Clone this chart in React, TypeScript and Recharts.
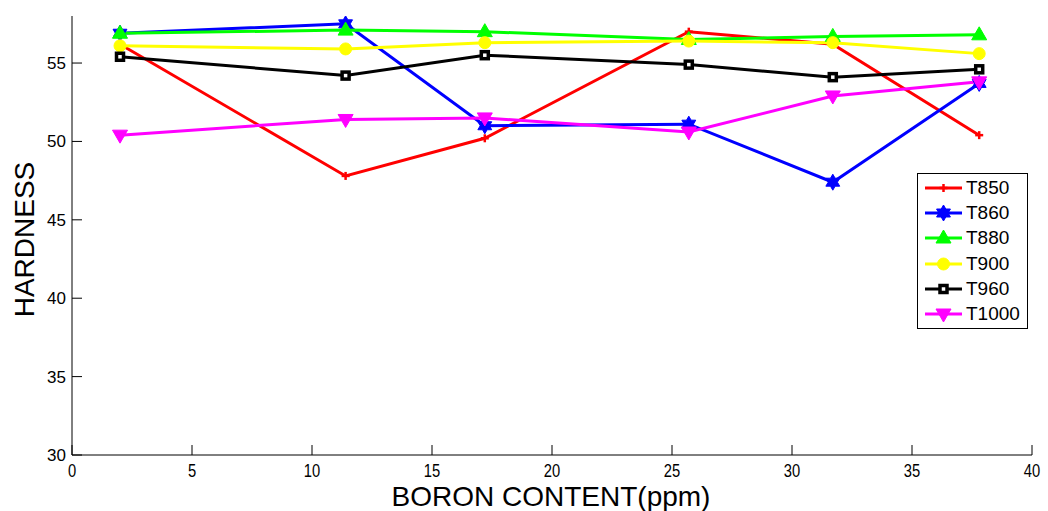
import React from 'react';
import { LineChart, Line, XAxis, YAxis, Legend } from 'recharts';

document.body.style.margin = '0';

const boron = [2, 11.4, 17.2, 25.7, 31.7, 37.8];
const t850 = [56.2, 47.8, 50.2, 57.0, 56.2, 50.4];
const t860 = [56.9, 57.5, 51.0, 51.1, 47.4, 53.7];
const t880 = [56.9, 57.1, 57.0, 56.5, 56.7, 56.8];
const t900 = [56.1, 55.9, 56.3, 56.4, 56.3, 55.6];
const t960 = [55.4, 54.2, 55.5, 54.9, 54.1, 54.6];
const t1000 = [50.4, 51.4, 51.5, 50.6, 52.9, 53.8];

const xTicks = [0, 5, 10, 15, 20, 25, 30, 35, 40];
const yTicks = [30, 35, 40, 45, 50, 55];

type Kind = 'plus' | 'star' | 'up' | 'circle' | 'square' | 'down';

const series: { key: string; name: string; color: string; kind: Kind; values: number[] }[] = [
  { key: 't850', name: 'T850', color: '#ff0000', kind: 'plus', values: t850 },
  { key: 't860', name: 'T860', color: '#0000ff', kind: 'star', values: t860 },
  { key: 't880', name: 'T880', color: '#00ff00', kind: 'up', values: t880 },
  { key: 't900', name: 'T900', color: '#ffff00', kind: 'circle', values: t900 },
  { key: 't960', name: 'T960', color: '#000000', kind: 'square', values: t960 },
  { key: 't1000', name: 'T1000', color: '#ff00ff', kind: 'down', values: t1000 },
];

const data = boron.map((b, i) => {
  const row: Record<string, number> = { boron: b };
  series.forEach((s) => (row[s.key] = s.values[i]));
  return row;
});

const FONT = '"Liberation Sans", Arial, sans-serif';

function hexagram(cx: number, cy: number, r: number) {
  const pts: string[] = [];
  const ri = r / Math.sqrt(3);
  for (let i = 0; i < 12; i++) {
    const a = (Math.PI / 6) * i - Math.PI / 2;
    const rr = i % 2 === 0 ? r : ri;
    pts.push(`${cx + rr * Math.cos(a)},${cy + rr * Math.sin(a)}`);
  }
  return pts.join(' ');
}

function Marker({ kind, color, cx, cy }: { kind: Kind; color: string; cx: number; cy: number }) {
  switch (kind) {
    case 'plus':
      return (
        <g stroke={color} strokeWidth={2.5}>
          <line x1={cx - 4} y1={cy} x2={cx + 4} y2={cy} />
          <line x1={cx} y1={cy - 4} x2={cx} y2={cy + 4} />
        </g>
      );
    case 'star':
      return <polygon points={hexagram(cx, cy, 8)} fill={color} stroke={color} strokeWidth={1} />;
    case 'up':
      return (
        <polygon
          points={`${cx},${cy - 8} ${cx + 7.5},${cy + 5} ${cx - 7.5},${cy + 5}`}
          fill={color}
          stroke={color}
          strokeWidth={1}
        />
      );
    case 'circle':
      return <circle cx={cx} cy={cy} r={6} fill={color} stroke={color} />;
    case 'square':
      return <rect x={cx - 3.5} y={cy - 3.5} width={7} height={7} fill="#fff" stroke={color} strokeWidth={3.5} />;
    case 'down':
      return (
        <polygon
          points={`${cx},${cy + 8} ${cx + 7.5},${cy - 5} ${cx - 7.5},${cy - 5}`}
          fill={color}
          stroke={color}
          strokeWidth={1}
        />
      );
  }
}

function LegendBox() {
  return (
    <div
      style={{
        boxSizing: 'border-box',
        width: 111,
        border: '1px solid #000',
        background: '#fff',
        padding: '1px 0 1px 7px',
        fontFamily: FONT,
        fontSize: 19,
      }}
    >
      {series.map((s) => (
        <div key={s.key} style={{ display: 'flex', alignItems: 'center', height: 25.3 }}>
          <svg width={37} height={20} style={{ marginRight: 4 }}>
            <line x1={0} y1={10} x2={37} y2={10} stroke={s.color} strokeWidth={3} />
            <Marker kind={s.kind} color={s.color} cx={18.5} cy={10} />
          </svg>
          <span>{s.name}</span>
        </div>
      ))}
    </div>
  );
}

// x tick labels are drawn a little narrow, as in the source image
function XTick({ x, y, payload }: any) {
  return (
    <text
      x={x}
      y={y}
      dy="0.71em"
      textAnchor="middle"
      fontSize={18}
      fontFamily={FONT}
      fill="#000"
      transform={`translate(${x} 0) scale(0.82 1) translate(${-x} 0)`}
    >
      {payload.value}
    </text>
  );
}

export default function App() {
  return (
    <LineChart width={1048} height={511} data={data} margin={{ top: 16, right: 16, left: 0, bottom: 0 }}>
      <XAxis
        dataKey="boron"
        type="number"
        domain={[0, 40]}
        ticks={xTicks}
        allowDataOverflow
        height={56}
        stroke="#000"
        tickSize={-10}
        tickMargin={19}
        tick={<XTick />}
        label={({ viewBox }: any) => (
          <text
            x={viewBox.x + viewBox.width / 2 - 1}
            y={viewBox.y + 51}
            textAnchor="middle"
            fontSize={28}
            fontFamily={FONT}
            fill="#000"
          >
            BORON CONTENT(ppm)
          </text>
        )}
      />
      <XAxis
        xAxisId="top"
        orientation="top"
        dataKey="boron"
        type="number"
        domain={[0, 40]}
        ticks={xTicks}
        height={0}
        stroke="#000"
        tickSize={-10}
        tick={false}
      />
      <YAxis
        domain={[30, 58]}
        ticks={yTicks}
        allowDataOverflow
        width={72}
        stroke="#000"
        tickSize={-10}
        tickMargin={16}
        tick={{ fill: '#000', fontSize: 17, fontFamily: FONT }}
        label={({ viewBox }: any) => {
          const cx = viewBox.x + 24;
          const cy = viewBox.y + viewBox.height / 2 + 4;
          return (
            <text
              x={cx}
              y={cy}
              transform={`rotate(-90 ${cx} ${cy})`}
              textAnchor="middle"
              dominantBaseline="central"
              fontSize={28}
              fontFamily={FONT}
              fill="#000"
            >
              HARDNESS
            </text>
          );
        }}
      />
      <YAxis
        yAxisId="right"
        orientation="right"
        domain={[30, 58]}
        ticks={yTicks}
        width={0}
        stroke="#000"
        tickSize={-10}
        tick={false}
      />
      {series.map((s) => (
        <Line
          key={s.key}
          dataKey={s.key}
          name={s.name}
          stroke={s.color}
          strokeWidth={3}
          isAnimationActive={false}
          dot={(p: any) => <Marker key={`${s.key}-${p.index}`} kind={s.kind} color={s.color} cx={p.cx} cy={p.cy} />}
          activeDot={false}
        />
      ))}
      <Legend
        layout="vertical"
        align="center"
        verticalAlign="middle"
        wrapperStyle={{ left: 917, top: 173, width: 'auto' }}
        content={() => <LegendBox />}
      />
    </LineChart>
  );
}
